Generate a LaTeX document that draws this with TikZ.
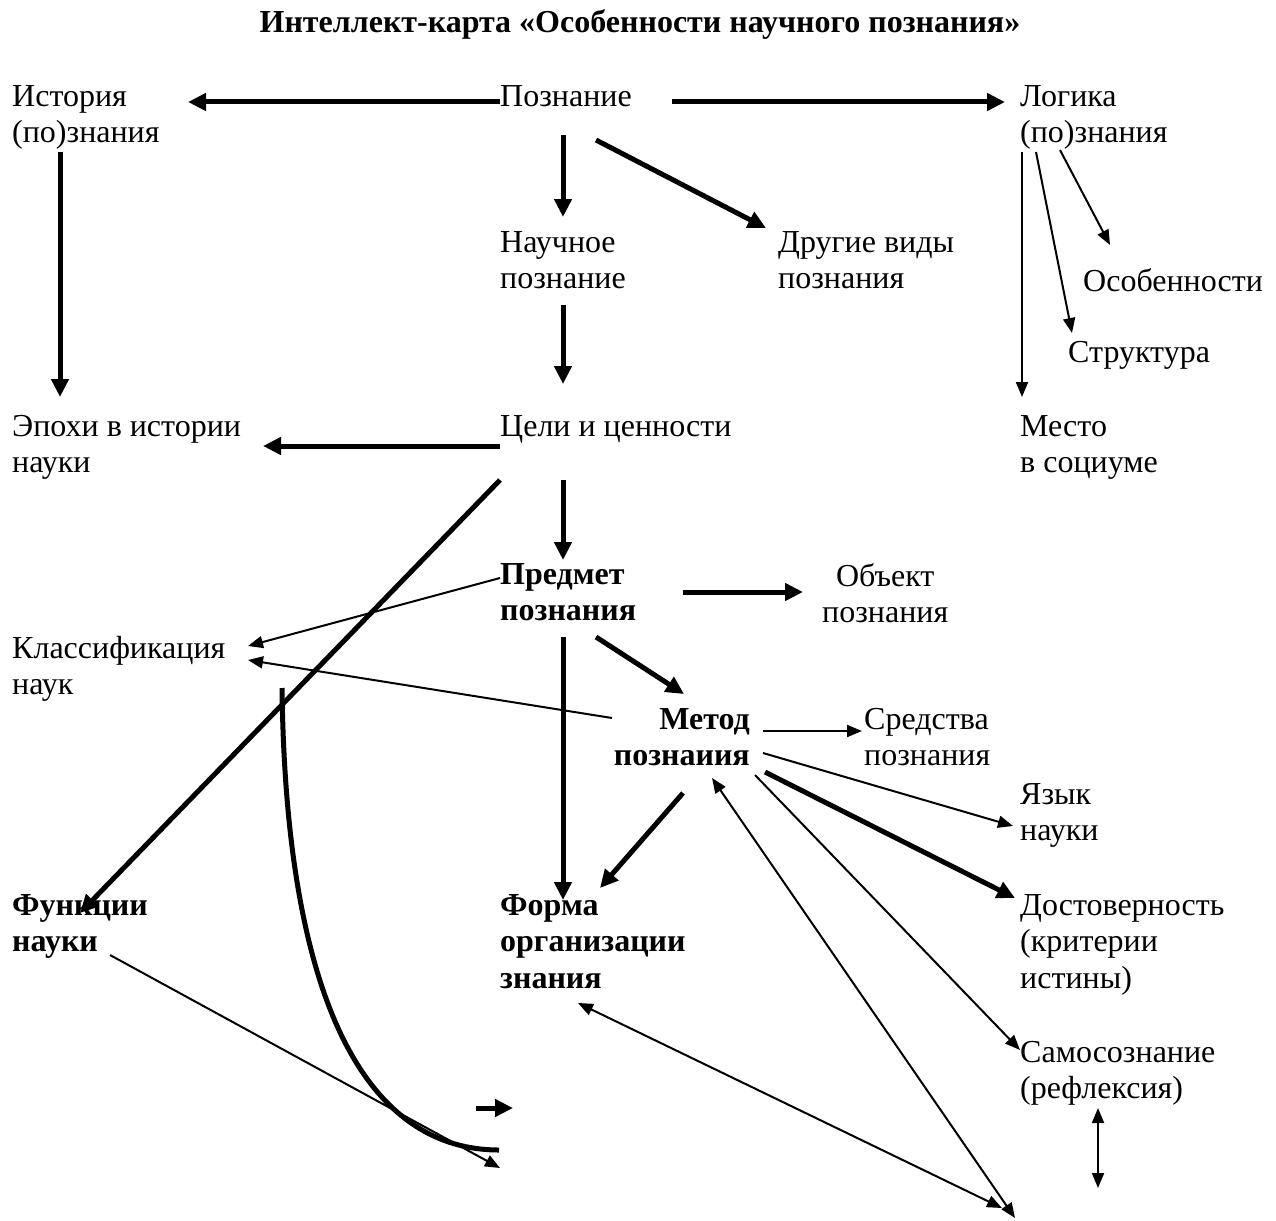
\documentclass[tikz,border=0pt]{standalone}
\usepackage{fontspec}
\setmainfont{Liberation Serif}
\usetikzlibrary{arrows.meta}

\tikzset{
  txt/.style = {anchor=north west, inner sep=0pt, align=left, font=\fontsize{32}{36.5}\selectfont},
  bold txt/.style = {txt, font=\fontsize{32}{36.5}\selectfont\bfseries},
  bigarrow/.style = {line width=5pt, -{Triangle[length=18pt,width=17pt]}},
  smallarrow/.style = {line width=2pt, -{Triangle[length=15pt,width=12pt]}},
  smalldouble/.style = {line width=2pt, {Triangle[length=15pt,width=12pt]}-{Triangle[length=15pt,width=12pt]}}
}

\begin{document}
\begin{tikzpicture}[x=1pt, y=-1pt]
\useasboundingbox (0,0) rectangle (1276,1220);

% title
\node[font=\fontsize{32}{36}\selectfont\bfseries, inner sep=0pt] (title) at (640,25)
  {Интеллект-карта «Особенности научного познания»};

% nodes
\node[txt] (ist) at (12,85) {История\\(по)знания};
\node[txt] (pozn) at (500,85) {Познание};
\node[txt] (log) at (1020,85) {Логика\\(по)знания};
\node[txt] (nauch) at (500,231) {Научное\\познание};
\node[txt] (drug) at (778,231) {Другие виды\\познания};
\node[txt] (osob) at (1083,268) {Особенности};
\node[txt] (strukt) at (1068,341) {Структура};
\node[txt] (epoh) at (12,415) {Эпохи в истории\\науки};
\node[txt] (cel) at (500,415) {Цели и ценности};
\node[txt] (mesto) at (1020,415) {Место\\в социуме};
\node[bold txt] (predm) at (500,563) {Предмет\\познания};
\node[txt, align=center] (obj) at (822,563) {Объект\\познания};
\node[txt] (klass) at (12,636) {Классификация\\наук};
\node[bold txt, anchor=north east, align=right] (metod) at (750,708) {Метод\\познаиия};
\node[txt] (sredst) at (864,708) {Средства\\познания};
\node[txt] (yazyk) at (1020,783) {Язык\\науки};
\node[bold txt] (funk) at (12,894) {Функции\\науки};
\node[bold txt] (forma) at (500,894) {Форма\\организации\\знания};
\node[txt] (dost) at (1020,894) {Достоверность\\(критерии\\истины)};
\node[txt] (samo) at (1020,1041) {Самосознание\\(рефлексия)};

% free ends
\coordinate (endA) at (500,1168);
\coordinate (endB) at (1015,1218);
\coordinate (endC) at (1002,1208);
\coordinate (vtop) at (1098,1108);
\coordinate (vbot) at (1098,1188);
\coordinate (sa) at (476,1108);
\coordinate (sb) at (513,1108);
\coordinate (cstart) at (282,688);
\coordinate (cend) at (499,1150);

% upper part
\draw[bigarrow] ([shift={(0,17)}]pozn.north west) -- ([shift={(176,17)}]ist.north west);
\draw[bigarrow] ([shift={(172,17)}]pozn.north west) -- ([shift={(-15,17)}]log.north west);
\draw[bigarrow] ([shift={(63,50)}]pozn.north west) -- ([shift={(63,-14)}]nauch.north west);
\draw[bigarrow] ([shift={(96,55)}]pozn.north west) -- ([shift={(-12,-3)}]drug.north west);
\draw[bigarrow] ([shift={(48,67)}]ist.north west) -- ([shift={(48,-18)}]epoh.north west);
\draw[bigarrow] ([shift={(63,74)}]nauch.north west) -- ([shift={(63,-31)}]cel.north west);
\draw[bigarrow] ([shift={(0,31)}]cel.north west) -- ([shift={(251,31)}]epoh.north west);
\draw[bigarrow] ([shift={(0,65)}]cel.north west) -- ([shift={(68,19)}]funk.north west);
\draw[bigarrow] ([shift={(63,65)}]cel.north west) -- ([shift={(63,-3)}]predm.north west);
\draw[smallarrow] ([shift={(2,67)}]log.north west) -- ([shift={(2,-18)}]mesto.north west);
\draw[smallarrow] ([shift={(16,67)}]log.north west) -- ([shift={(4,-8)}]strukt.north west);
\draw[smallarrow] ([shift={(40,65)}]log.north west) -- ([shift={(27,-23)}]osob.north west);

% middle part
\draw[bigarrow] ([shift={(183,29)}]predm.north west) -- ([shift={(-19,29)}]obj.north west);
\draw[smallarrow] ([shift={(0,15)}]predm.north west) -- ([shift={(236,10)}]klass.north west);
\draw[bigarrow] ([shift={(96,74)}]predm.north west) -- ([shift={(-66,-14)}]metod.north east);
\draw[bigarrow] ([shift={(63,74)}]predm.north west) -- ([shift={(63,6)}]forma.north west);
\draw[smallarrow] ([shift={(-138,10)}]metod.north east) -- ([shift={(236,24)}]klass.north west);
\draw[smallarrow] ([shift={(13,23)}]metod.north east) -- ([shift={(-2,23)}]sredst.north west);
\draw[smallarrow] ([shift={(13,45)}]metod.north east) -- ([shift={(-7,43)}]yazyk.north west);
\draw[bigarrow] ([shift={(15,64)}]metod.north east) -- ([shift={(-5,4)}]dost.north west);
\draw[smallarrow] ([shift={(5,67)}]metod.north east) -- ([shift={(0,9)}]samo.north west);
\draw[bigarrow] ([shift={(-67,85)}]metod.north east) -- ([shift={(100,-6)}]forma.north west);

% lower part
\draw[smalldouble] ([shift={(-38,70)}]metod.north east) -- (endB);
\draw[smalldouble] ([shift={(78,109)}]forma.north west) -- (endC);
\draw[smalldouble] (vtop) -- (vbot);
\draw[smallarrow] ([shift={(98,61)}]funk.north west) -- (endA);
\draw[bigarrow] (sa) -- (sb);
\draw[line width=5pt] (cstart) .. controls (286,1010) and (370,1150) .. (cend);

\end{tikzpicture}
\end{document}
